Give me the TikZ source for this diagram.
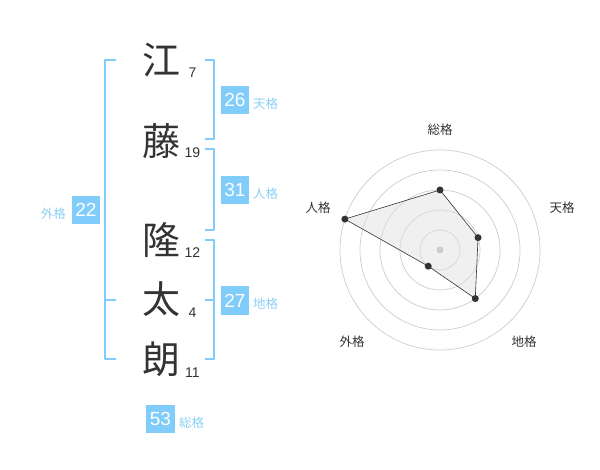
\documentclass[tikz,border=0pt]{standalone}
\usepackage{fontspec}
\setmainfont{Liberation Sans}
\newfontfamily\cjk{Noto Sans CJK JP}
\usepackage{tikz}
\usetikzlibrary{calc}
\definecolor{skyb}{RGB}{128,204,250}
\definecolor{skyt}{RGB}{140,208,245}
\definecolor{ink}{RGB}{51,51,51}
\definecolor{ring}{RGB}{204,204,204}
\definecolor{area}{RGB}{225,225,225}

\begin{document}
\begin{tikzpicture}[x=1pt,y=-1pt,line join=round]
\tikzstyle{kanji} = [font=\cjk\fontsize{38}{38}\selectfont,text=ink,inner sep=0pt]
\tikzstyle{num} = [font=\fontsize{14}{14}\selectfont,text=ink,inner sep=0pt]
\tikzstyle{box} = [fill=skyb,text=white,minimum size=28.5pt,inner sep=0pt,font=\fontsize{19}{19}\selectfont]
\tikzstyle{lbl} = [text=skyt,font=\cjk\fontsize{12.5}{12.5}\selectfont,inner sep=0pt]
\tikzstyle{brk} = [draw=skyb,line width=2pt]
\tikzstyle{axis} = [text=ink,font=\cjk\fontsize{12.5}{12.5}\selectfont,inner sep=0pt]
\useasboundingbox (0,0) rectangle (600,470);
% name
\node[kanji] (k1) at (161,60) {江};
\node[kanji] (k2) at (161,141) {藤};
\node[kanji] (k3) at (161,240) {隆};
\node[kanji] (k4) at (161,299) {太};
\node[kanji] (k5) at (161,359) {朗};
\node[num] (n1) at (192.5,73) {7};
\node[num] (n2) at (192.5,153) {19};
\node[num] (n3) at (192.5,253) {12};
\node[num] (n4) at (192.5,313) {4};
\node[num] (n5) at (192.5,373) {11};
% brackets
\draw[brk] (205,60)--(214,60)--(214,139)--(205,139);
\draw[brk] (205,149)--(214,149)--(214,230)--(205,230);
\draw[brk] (205,240)--(214,240)--(214,359)--(205,359);
\draw[brk] (205,300)--(214,300);
\draw[brk] (116,60)--(105,60)--(105,359)--(116,359);
\draw[brk] (105,300)--(116,300);
% scores
\node[box] (ten) at (235,100) {26};
\node[lbl,anchor=west] (tenl) at (253,104) {天格};
\node[box] (jin) at (235,190) {31};
\node[lbl,anchor=west] (jinl) at (253,194) {人格};
\node[box] (chi) at (235,300.5) {27};
\node[lbl,anchor=west] (chil) at (253,304) {地格};
\node[box] (gai) at (86,210) {22};
\node[lbl,anchor=east] (gail) at (66,214) {外格};
\node[box] (sou) at (160.5,419) {53};
\node[lbl,anchor=west] (soul) at (179,423) {総格};
% radar
\coordinate (c) at (440,250);
\foreach \r in {20,40,60,80,100}
  \draw[ring,line width=.7pt] (c) circle [radius=\r pt];
\filldraw[fill=area,fill opacity=.5,draw=ink,line width=.6pt] ($(c)+(-90:60)$)--($(c)+(-18:40)$)--($(c)+(54:60)$)--($(c)+(126:20)$)--($(c)+(198:100)$)--cycle;
\fill[ring] (c) circle [radius=3.5pt];
\foreach \a/\v in {-90/60,-18/40,54/60,126/20,198/100}
  \fill[ink] ($(c)+(\a:\v)$) circle [radius=3.5pt];
\node[axis] (ax1) at (440,130) {総格};
\node[axis] (ax2) at (562,208) {天格};
\node[axis] (ax3) at (524,342) {地格};
\node[axis] (ax4) at (352,342) {外格};
\node[axis] (ax5) at (318,208) {人格};
\end{tikzpicture}
\end{document}
